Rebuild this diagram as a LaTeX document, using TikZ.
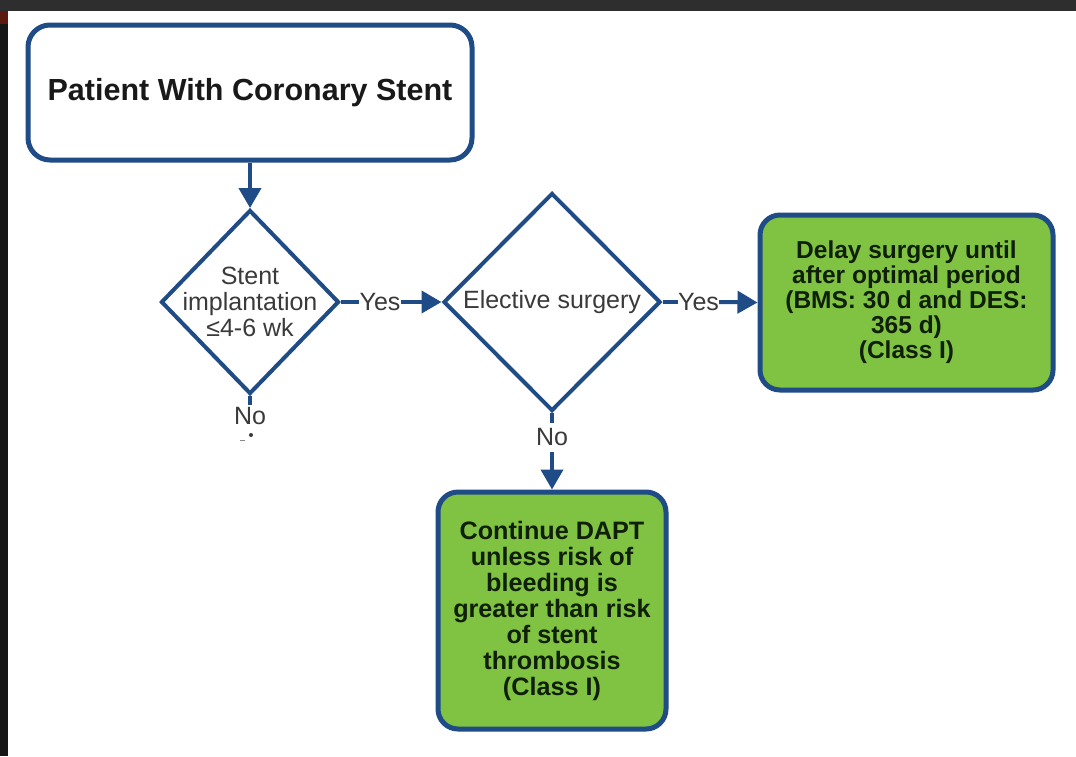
\documentclass[tikz,border=0pt]{standalone}
\usepackage{fontspec}
\setmainfont{Liberation Sans}
\usetikzlibrary{shapes.geometric,arrows.meta}
\definecolor{bl}{HTML}{1F4B86}
\definecolor{gr}{HTML}{80C241}
\definecolor{tx}{HTML}{3A3A3A}
\definecolor{gtx}{HTML}{102008}
\definecolor{topbar}{HTML}{2E2E2E}
\definecolor{leftbar}{HTML}{161616}
\definecolor{redmark}{HTML}{5A1A10}
\begin{document}
\begin{tikzpicture}[x=1pt,y=-1pt,
  dia/.style={diamond, draw=bl, line width=4pt, inner sep=0pt, fill=white},
  dtext/.style={text=tx, align=center, font=\fontsize{25pt}{26pt}\selectfont, inner sep=0pt},
  gbox/.style={draw=bl, line width=5pt, fill=gr, rounded corners=20pt, text=gtx, align=center,
    font=\bfseries\fontsize{24.5pt}{25pt}\selectfont, inner sep=0pt},
  conn/.style={draw=bl, line width=4pt},
  arr/.style={conn, -{Triangle[length=20pt,width=22pt]}},
  lbl/.style={text=tx, font=\fontsize{25pt}{26pt}\selectfont, inner sep=0pt}
]
\useasboundingbox (0,0) rectangle (1076,756);
\fill[white] (0,0) rectangle (1076,756);
\fill[topbar] (0,0) rectangle (1076,11);
\fill[leftbar] (0,11) rectangle (8,756);
\fill[redmark] (0,11) rectangle (8,24);

% top box
\node[draw=bl, line width=5pt, rounded corners=22pt, minimum width=444pt, minimum height=135pt,
  font=\bfseries\fontsize{30.5pt}{31pt}\selectfont, text=black!90, inner sep=0pt] (top) at (250,92.5) {Patient With Coronary Stent};

% diamonds
\node[dia, minimum width=178pt, minimum height=184pt] (d1) at (250,302) {};
\node[dtext] (d1t) at (d1.center) {Stent\\implantation\\≤4-6 wk};
\node[dia, minimum width=217pt, minimum height=218pt] (d2) at (552,302) {};
\node[dtext] (d2t) at (d2.center) {Elective surgery};

% green boxes
\node[gbox, minimum width=293pt, minimum height=175pt, font=\bfseries\fontsize{24.5pt}{25pt}\selectfont] (b1) at (906.5,302.5)
  {Delay surgery until\\after optimal period\\(BMS: 30 d and DES:\\365 d)\\(Class I)};
\node[gbox, minimum width=228pt, minimum height=237pt, font=\bfseries\fontsize{25.2pt}{26pt}\selectfont] (b2) at (552,610.5)
  {Continue DAPT\\unless risk of\\bleeding is\\greater than risk\\of stent\\thrombosis\\(Class I)};

% labels
\node[lbl, minimum height=20pt] (y1) at (380,302) {Yes};
\node[lbl, minimum height=20pt] (y2) at (698.5,302) {Yes};
\node[lbl, minimum height=23pt] (no1) at (250,416.5) {No};
\node[lbl, minimum height=29pt] (no2) at (552,437.5) {No};

% connectors
\draw[arr] (top.south) -- (d1.north);
\draw[conn] (d1.east) -- (y1.west);
\draw[arr] (y1.east) -- (d2.west);
\draw[conn] (d2.east) -- (y2.west);
\draw[arr] (y2.east) -- (b1.west);
\draw[conn, line width=3.5pt] (d1.south) -- (no1.north);
\draw[conn, line width=3.5pt] (d2.south) -- (no2.north);
\draw[arr] (no2.south) -- (b2.north);

% small marks under the first "No"
\coordinate (m1) at (251,435);
\coordinate (m2) at (240,440.5);
\coordinate (m3) at (245,440.5);
\fill[tx] (m1) circle[radius=2pt];
\draw[tx!60, line width=1pt] (m2) -- (m3);
\end{tikzpicture}
\end{document}
